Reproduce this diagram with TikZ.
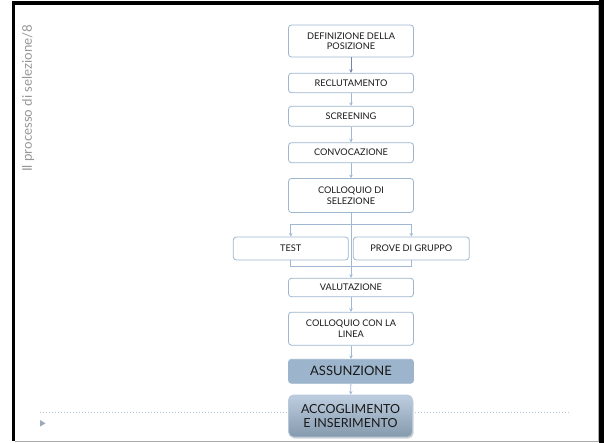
\documentclass[tikz,border=0pt]{standalone}
\usepackage{fontspec}
\setmainfont{Lato}
\usetikzlibrary{arrows.meta,shadows}
\definecolor{boxline}{RGB}{158,182,206}
\definecolor{flowblue}{RGB}{160,184,212}
\definecolor{darkflow}{RGB}{118,132,168}
\definecolor{keyfill}{RGB}{157,181,204}
\definecolor{titlegray}{RGB}{150,150,150}
\definecolor{framegray}{RGB}{170,170,170}
\definecolor{dotblue}{RGB}{182,200,220}
\tikzset{
  stepbox/.style={draw=boxline, line width=0.8pt, rounded corners=3pt, fill=white, align=center,
    text=black!90, font=\fontsize{9.2}{10.5}\selectfont, inner sep=0pt, minimum width=125pt},
  keybox/.style={stepbox, fill=keyfill, draw=keyfill, font=\fontsize{13}{14.5}\selectfont},
  lastbox/.style={stepbox, draw=dotblue, top color=dotblue!90!white, bottom color=keyfill!85!black,
    rounded corners=5pt, font=\fontsize{12.5}{14.5}\selectfont,
    drop shadow={opacity=0.35, shadow xshift=1pt, shadow yshift=-1.5pt}},
  flow/.style={-{Stealth[length=3.5pt,width=3.5pt]}, flowblue, line width=0.8pt},
  flowline/.style={flowblue, line width=0.8pt},
}
\begin{document}
\begin{tikzpicture}[x=1pt,y=-1pt]
\useasboundingbox (0,0) rectangle (604,443);
% cornice della slide
\fill[black] (12,1.5) rectangle (604,4.7);
\fill[black] (12,1.5) rectangle (15,441);
\fill[black] (599,0) rectangle (604,443);
\draw[framegray, line width=1pt] (598,4.7) -- (598,441);
\draw[framegray, line width=1pt] (15,441.5) -- (599,441.5);
\node[rotate=90, text=titlegray, font=\fontsize{13.3}{15}\selectfont] (title) at (28,98) {Il processo di selezione/8};
% linea tratteggiata in basso
\coordinate (dotL) at (40,412);
\coordinate (dotR) at (571,412);
\draw[dotblue, dotted, line width=1pt] (dotL) -- (dotR);
\fill[dotblue!85!black] (40,420) -- (45.5,423.3) -- (40,426.6) -- cycle;
% fasi
\node[stepbox, minimum height=32pt] (def) at (351,41) {DEFINIZIONE DELLA\\POSIZIONE};
\node[stepbox, minimum height=19.5pt] (recl) at (351,83) {RECLUTAMENTO};
\node[stepbox, minimum height=20pt] (scr) at (351,116.3) {SCREENING};
\node[stepbox, minimum height=20pt] (conv) at (351,152.7) {CONVOCAZIONE};
\node[stepbox, minimum height=34pt] (coll) at (351,195.5) {COLLOQUIO DI\\SELEZIONE};
\node[stepbox, minimum height=23pt, minimum width=115pt] (test) at (290.8,248.5) {TEST};
\node[stepbox, minimum height=23pt, minimum width=116pt] (prove) at (411.3,248.5) {PROVE DI GRUPPO};
\node[stepbox, minimum height=18.5pt] (valut) at (351,287.5) {VALUTAZIONE};
\node[stepbox, minimum height=33pt] (linea) at (351,328.7) {COLLOQUIO CON LA\\LINEA};
\node[keybox, minimum height=24pt] (assun) at (351,371.3) {ASSUNZIONE};
\node[lastbox, minimum height=42pt, minimum width=124pt] (accogl) at (350.5,416) {ACCOGLIMENTO\\E INSERIMENTO};
% frecce
\draw[flow, darkflow] (def) -- (recl);
\draw[flow] (recl) -- (scr);
\draw[flow] (scr) -- (conv);
\draw[flow] (conv) -- (coll);
\coordinate (split) at (351,224);
\coordinate (merge) at (351,266.7);
\draw[flowline] (split -| test) -- (split -| prove);
\draw[flow] (split -| test) -- (test);
\draw[flow] (split -| prove) -- (prove);
\draw[flowline] (test) -- (merge -| test) -- (merge -| prove) -- (prove);
\draw[flow] (coll) -- (valut);
\draw[flow] (valut) -- (linea);
\draw[flow] (linea) -- (assun);
\draw[flow] (assun) -- (accogl);
\end{tikzpicture}
\end{document}
